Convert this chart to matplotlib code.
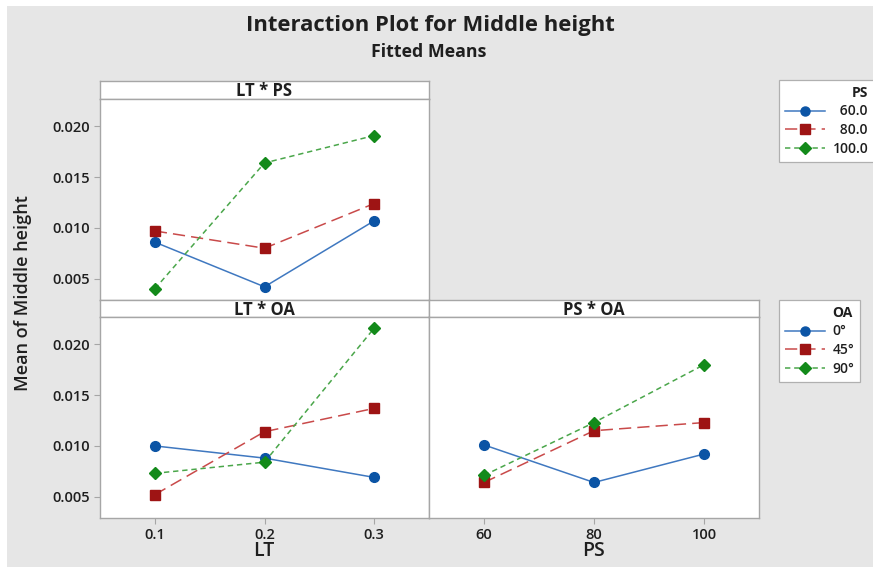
import matplotlib
matplotlib.use("Agg")
import matplotlib.pyplot as plt
from matplotlib.lines import Line2D
from matplotlib.patches import Rectangle

plt.rcParams['font.family'] = ['Open Sans', 'DejaVu Sans']

# Factor levels
lt_levels = [0.1, 0.2, 0.3]
ps_levels = [60, 80, 100]
ps_labels = ["\u200760.0", "\u200780.0", "100.0"]
oa_labels = ["0°", "45°", "90°"]

# Fitted means: LT * PS (one list per PS level, indexed by LT)
lt_ps_60 = [0.0086, 0.0042, 0.0107]
lt_ps_80 = [0.0097, 0.0080, 0.0124]
lt_ps_100 = [0.0040, 0.0164, 0.0191]

# Fitted means: LT * OA (one list per OA level, indexed by LT)
lt_oa_0 = [0.0100, 0.0088, 0.0069]
lt_oa_45 = [0.0052, 0.0114, 0.0137]
lt_oa_90 = [0.0073, 0.0084, 0.0216]

# Fitted means: PS * OA (one list per OA level, indexed by PS)
ps_oa_0 = [0.0101, 0.0064, 0.0092]
ps_oa_45 = [0.0064, 0.0115, 0.0123]
ps_oa_90 = [0.0071, 0.0123, 0.0180]

y_ticks = [0.005, 0.010, 0.015, 0.020]
y_lim = (0.0029, 0.0227)

W, H = 873, 567
fig = plt.figure(figsize=(W / 100, H / 100), dpi=100)
fig.patch.set_facecolor("white")
BG = "#e6e6e6"
fig.patches.append(Rectangle((7 / W, 0), 1, 1 - 6 / H, transform=fig.transFigure,
                             facecolor=BG, edgecolor="none", zorder=-10))

EDGE = "#a6a6a6"
TXT = "#1f1f1f"
# marker colour, line colour, marker, dash pattern, marker size
styles = [
    dict(mc="#0b54a5", lc="#3f78c0", marker="o", ls="-", ms=7),
    dict(mc="#9e1414", lc="#c94a4a", marker="s", ls=(0, (8, 4)), ms=7),
    dict(mc="#138a1a", lc="#4aa64a", marker="D", ls=(0, (3.5, 2.5)), ms=6.5),
]
SEMI = "semibold"


def px_axes(x0, y0, x1, y1):
    return fig.add_axes([x0 / W, 1 - y1 / H, (x1 - x0) / W, (y1 - y0) / H])


def strip(x0, y0, x1, y1, text):
    a = px_axes(x0, y0, x1, y1)
    a.set_xticks([])
    a.set_yticks([])
    a.set_facecolor("white")
    for s in a.spines.values():
        s.set_color(EDGE)
        s.set_linewidth(1.0)
    a.text(0.5, 0.42, text, ha="center", va="center", fontsize=12,
           fontweight="bold", color=TXT, transform=a.transAxes)
    return a


def panel(x0, y0, x1, y1, xs, series, xlim, xticks, xticklabels, show_y, show_x):
    a = px_axes(x0, y0, x1, y1)
    a.set_facecolor("white")
    for vals, st in zip(series, styles):
        a.plot(xs, vals, color=st["lc"], linestyle=st["ls"], linewidth=1.1, zorder=2)
        a.plot(xs, vals, color=st["mc"], marker=st["marker"], linestyle="none",
               markersize=st["ms"], zorder=3)
    a.set_xlim(*xlim)
    a.set_ylim(*y_lim)
    a.set_xticks(xticks)
    a.set_yticks(y_ticks)
    for s in a.spines.values():
        s.set_color(EDGE)
        s.set_linewidth(1.0)
    a.tick_params(axis="both", colors=EDGE, labelcolor=TXT, labelsize=10.5,
                  length=4, width=0.8)
    if show_y:
        a.set_yticklabels([f"{v:.3f}" for v in y_ticks], fontweight=SEMI)
    else:
        a.tick_params(axis="y", length=0, labelleft=False)
    if show_x:
        a.set_xticklabels(xticklabels, fontweight=SEMI)
    else:
        a.tick_params(axis="x", length=0, labelbottom=False)
    return a


# Top-left: LT * PS
strip(100, 81, 429, 99, "LT * PS")
panel(100, 99, 429, 300, lt_levels, [lt_ps_60, lt_ps_80, lt_ps_100],
      (0.05, 0.35), lt_levels, ["0.1", "0.2", "0.3"], True, False)

# Bottom-left: LT * OA
strip(100, 300, 429, 317, "LT * OA")
panel(100, 317, 429, 518, lt_levels, [lt_oa_0, lt_oa_45, lt_oa_90],
      (0.05, 0.35), lt_levels, ["0.1", "0.2", "0.3"], True, True)

# Bottom-right: PS * OA
strip(429, 300, 759, 317, "PS * OA")
panel(429, 317, 759, 518, ps_levels, [ps_oa_0, ps_oa_45, ps_oa_90],
      (50, 110), ps_levels, ["60", "80", "100"], False, True)

# Titles and axis labels
fig.text(430 / W, 1 - 25 / H, "Interaction Plot for Middle height", ha="center", va="center",
         fontsize=15.8, fontweight="bold", color=TXT)
fig.text(429 / W, 1 - 52 / H, "Fitted Means", ha="center", va="center",
         fontsize=12.8, fontweight="bold", color=TXT)
fig.text(23 / W, 1 - 293 / H, "Mean of Middle height", ha="center", va="center",
         rotation=90, fontsize=13, fontweight=SEMI, color=TXT)
fig.text(264 / W, 1 - 551 / H, "LT", ha="center", va="center",
         fontsize=14, fontweight=SEMI, color=TXT)
fig.text(594 / W, 1 - 551 / H, "PS", ha="center", va="center",
         fontsize=14, fontweight=SEMI, color=TXT)


def legend_handles():
    return [Line2D([], [], color=st["lc"], linestyle=st["ls"], linewidth=1.1,
                   marker=st["marker"], markerfacecolor=st["mc"],
                   markeredgecolor=st["mc"], markersize=st["ms"] - 0.5)
            for st in styles]


def style_legend(leg):
    leg.get_frame().set_edgecolor("#b0b0b0")
    leg.get_frame().set_linewidth(0.9)
    leg.get_frame().set_facecolor("white")
    for t in leg.get_texts():
        t.set_color(TXT)
        t.set_fontweight(SEMI)
    leg.get_title().set_fontweight("bold")
    leg.get_title().set_color(TXT)


common = dict(loc="upper left", frameon=True, fancybox=False, framealpha=1,
              fontsize=10, title_fontsize=10, handlelength=2.9,
              handletextpad=0.55, labelspacing=0.35, borderpad=0.4,
              borderaxespad=0)

# PS legend: title flush right above the numbers
leg_ps = fig.legend(legend_handles(), ps_labels, title="PS",
                    bbox_to_anchor=(779 / W, 1 - 80 / H), alignment="right", **common)
style_legend(leg_ps)

# OA legend: title sits in the label column, above the angle labels
blank = Line2D([], [], linestyle="none", marker=None)
leg_oa = fig.legend([blank] + legend_handles(), ["OA"] + oa_labels,
                    bbox_to_anchor=(779 / W, 1 - 300 / H), **common)
style_legend(leg_oa)
leg_oa.get_texts()[0].set_fontweight("bold")

fig.savefig("out.png", dpi=100, facecolor=fig.get_facecolor())
